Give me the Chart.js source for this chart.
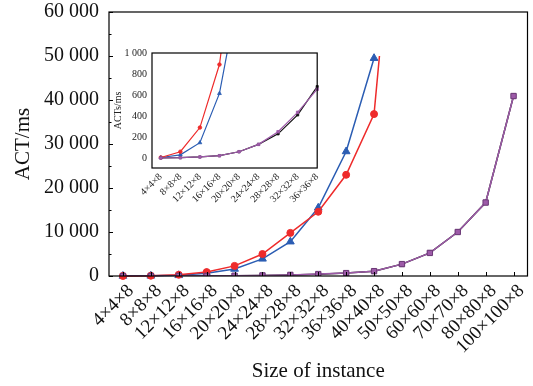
<!DOCTYPE html>
<html>
<head>
<meta charset="utf-8">
<script src="https://cdn.jsdelivr.net/npm/chart.js@4.4.1/dist/chart.umd.min.js"></script>
<style>
  body { margin: 0; background: #fff; }
  #wrap { position: relative; width: 533px; height: 386px; }
  #main { position: absolute; left: 0; top: 0; }
  #inset { position: absolute; left: 98px; top: 43px; }
</style>
</head>
<body>
<div id="wrap">
  <canvas id="main" width="533" height="386"></canvas>
  <canvas id="inset" width="224" height="165"></canvas>
</div>
<script>
const sizes = ["4×4×8", "8×8×8", "12×12×8", "16×16×8", "20×20×8", "24×24×8", "28×28×8", "32×32×8",
               "36×36×8", "40×40×8", "50×50×8", "60×60×8", "70×70×8", "80×80×8", "100×100×8"];

// ACT/ms per instance size
const redVals    = [5, 60, 290, 890, 2300, 5000, 9800, 14600, 23000, 36800, 105000, null, null, null, null];
const blueVals   = [5, 30, 146, 615, 1600, 3900, 7800, 15500, 28300, 49500, null, null, null, null, null];
const blackVals  = [1, 3, 10, 22, 60, 130, 230, 410, 680, 1100, 2700, 5250, 10000, 16700, 40900];
const purpleVals = [1, 3, 10, 22, 60, 130, 250, 435, 655, 1100, 2700, 5250, 10000, 16700, 40900];

const mainTicks = [0, 10000, 20000, 30000, 40000, 50000, 60000];
const insetTicks = [0, 200, 400, 600, 800, 1000];
const insetCount = 9;

const RED = "#ee2b2b", BLUE = "#2b5db3", PURPLE = "#9d5aa8", BLACK = "#111";
const SERIF = "'Liberation Serif', 'Times New Roman', serif";

const fmt = (v) => String(v).replace(/\B(?=(\d{3})+(?!\d))/g, " ");

// no automatic label padding, so the plot box sits where layout.padding says
const noPad = (s) => { s.paddingTop = 0; s.paddingBottom = 0; s.paddingLeft = 0; s.paddingRight = 0; };

const frameTicks = {
  id: "frameTicks",
  afterDraw(chart, args, opts) {
    const { ctx, chartArea: a, scales } = chart;
    ctx.save();
    ctx.strokeStyle = "#000";
    ctx.lineWidth = 1.2;
    ctx.strokeRect(a.left, a.top, a.right - a.left, a.bottom - a.top);
    if (opts.ticks) {
      ctx.lineWidth = 1;
      ctx.beginPath();
      const ys = scales.y.ticks.map(t => t.value);
      ys.forEach((v, i) => {
        const y = Math.round(scales.y.getPixelForValue(v)) + 0.5;
        ctx.moveTo(a.left, y); ctx.lineTo(a.left + 4, y);
        if (i < ys.length - 1) {
          const ym = Math.round(scales.y.getPixelForValue((v + ys[i + 1]) / 2)) + 0.5;
          ctx.moveTo(a.left, ym); ctx.lineTo(a.left + 2.5, ym);
        }
      });
      sizes.forEach((s, i) => {
        const x = Math.round(scales.x.getPixelForValue(i)) + 0.5;
        ctx.moveTo(x, a.bottom); ctx.lineTo(x, a.bottom - 4);
      });
      ctx.stroke();
    }
    ctx.restore();
  }
};

function series(label, data, color, style, r, border) {
  return {
    label, data,
    borderColor: color,
    backgroundColor: color,
    pointBorderColor: border || color,
    pointStyle: style,
    pointRadius: r,
    pointBorderWidth: 1,
    borderWidth: 1.5,
    tension: 0,
    spanGaps: false
  };
}

new Chart(document.getElementById("main"), {
  type: "line",
  data: {
    labels: sizes,
    datasets: [
      series("purple", purpleVals, PURPLE, "rect", 3.8, "#6d3a78"),
      series("black", blackVals, BLACK, "rect", 3, BLACK),
      Object.assign(series("red", redVals, RED, "circle", 3.5), { clip: { left: 6, top: -44, right: 6, bottom: 6 } }),
      Object.assign(series("blue", blueVals, BLUE, "triangle", 4.5), { clip: 6 })
    ]
  },
  plugins: [frameTicks],
  options: {
    responsive: false,
    animation: false,
    devicePixelRatio: 1,
    layout: { padding: { top: 12, right: 3, left: 0, bottom: 0 } },
    plugins: {
      legend: { display: false },
      tooltip: { enabled: false },
      frameTicks: { ticks: true }
    },
    scales: {
      x: {
        type: "category",
        offset: true,
        grid: { display: false, drawTicks: false },
        border: { display: false },
        ticks: {
          autoSkip: false, minRotation: 45, maxRotation: 45,
          color: "#111", padding: 4, labelOffset: 8,
          font: { family: SERIF, size: 19 }
        },
        title: {
          display: true, text: "Size of instance", color: "#111",
          font: { family: SERIF, size: 21 }, padding: { top: 0, bottom: 2 }
        },
        afterFit: (s) => { s.height = 110; noPad(s); }
      },
      y: {
        min: 0, max: 60000,
        grid: { display: false, drawTicks: false },
        border: { display: false },
        afterBuildTicks: (s) => { s.ticks = mainTicks.map(v => ({ value: v })); },
        ticks: {
          color: "#111", padding: 10,
          font: { family: SERIF, size: 20 },
          callback: (v) => fmt(v)
        },
        title: {
          display: true, text: "ACT/ms", color: "#111",
          font: { family: SERIF, size: 21 }, padding: { top: 11, bottom: 0 }
        },
        afterFit: (s) => { s.width = 109; noPad(s); }
      }
    }
  }
});

const insetX = sizes.slice(0, insetCount);
const pts = (arr) => arr.slice(0, insetCount).map((v, i) => ({ x: i, y: v }));

function insetSeries(label, data, color, style, r) {
  return Object.assign(series(label, pts(data), color, style, r), { borderWidth: 1.2, pointBorderWidth: 0.8, clip: { left: 4, top: 0, right: 4, bottom: 4 } });
}

new Chart(document.getElementById("inset"), {
  type: "line",
  data: {
    datasets: [
      insetSeries("purple", purpleVals, PURPLE, "rect", 1.8),
      insetSeries("black", blackVals, BLACK, "rect", 1.5),
      insetSeries("red", redVals, RED, "circle", 1.8),
      insetSeries("blue", blueVals, BLUE, "triangle", 2.2)
    ]
  },
  plugins: [frameTicks],
  options: {
    responsive: false,
    animation: false,
    devicePixelRatio: 1,
    layout: { padding: { top: 10, right: 3, left: 0, bottom: 0 } },
    plugins: {
      legend: { display: false },
      tooltip: { enabled: false },
      frameTicks: { ticks: false }
    },
    scales: {
      x: {
        type: "linear",
        min: -0.45, max: insetCount - 1,
        grid: { display: false, drawTicks: false },
        border: { display: false },
        afterBuildTicks: (s) => { s.ticks = insetX.map((_, i) => ({ value: i })); },
        ticks: {
          autoSkip: false, minRotation: 45, maxRotation: 45,
          color: "#222", padding: 3,
          font: { family: SERIF, size: 10 },
          callback: (v) => insetX[v]
        },
        afterFit: (s) => { s.height = 40; noPad(s); }
      },
      y: {
        min: -95, max: 1000,
        grid: { display: false, drawTicks: false },
        border: { display: false },
        afterBuildTicks: (s) => { s.ticks = insetTicks.map(v => ({ value: v })); },
        ticks: {
          color: "#222", padding: 5,
          font: { family: SERIF, size: 10 },
          callback: (v) => fmt(v)
        },
        title: {
          display: true, text: "ACTs/ms", color: "#222",
          font: { family: SERIF, size: 10 }, padding: { top: 14, bottom: 0 }
        },
        afterFit: (s) => { s.width = 54; noPad(s); }
      }
    }
  }
});
</script>
</body>
</html>
